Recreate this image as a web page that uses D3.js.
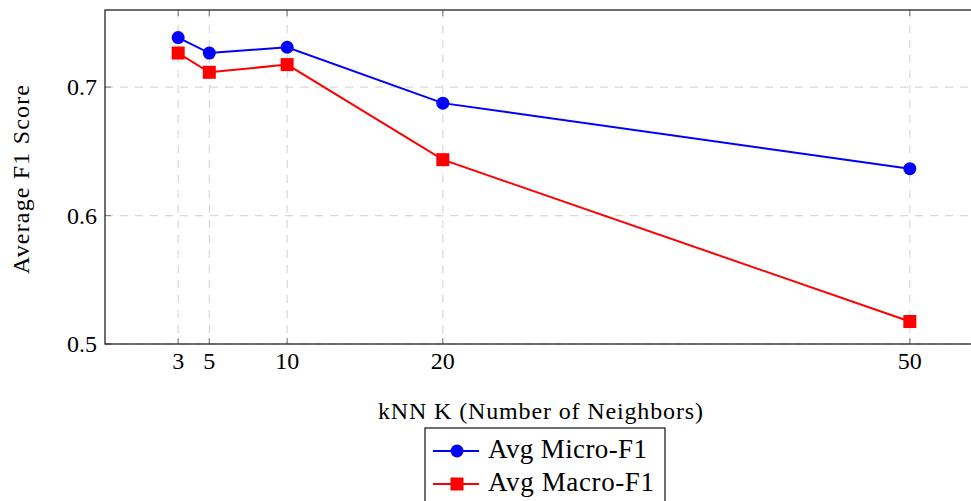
<!DOCTYPE html>
<html>
<head>
<meta charset="utf-8">
<script src="https://cdn.jsdelivr.net/npm/d3@7"></script>
<style>
  body { margin: 0; background: #fff; }
  svg { display: block; }
  text { font-family: "Liberation Serif", "Times New Roman", serif; fill: #000; }
</style>
</head>
<body>
<div id="chart"></div>
<script>
// data
const kValues = [3, 5, 10, 20, 50];
const microF1 = [0.7385, 0.7265, 0.731, 0.6875, 0.6365];
const macroF1 = [0.7265, 0.7115, 0.7175, 0.6435, 0.5175];
const xTicks = [3, 5, 10, 20, 50];
const yTicks = [0.5, 0.6, 0.7];

const W = 971, H = 501;
const margin = { top: 10, left: 105 },
    width = 878,
    height = 334;

const svg = d3.select("#chart")
    .append("svg")
    .attr("width", W)
    .attr("height", H);

const g = svg.append("g")
    .attr("transform", "translate(" + margin.left + "," + margin.top + ")");

// scales
const x = d3.scaleLinear()
    .domain([-1.7, 54.7])
    .range([0, width]);
const y = d3.scaleLinear()
    .domain([0.5, 0.76])
    .range([height, 0]);

// grid
g.selectAll("line.vgrid")
    .data(xTicks)
    .enter()
    .append("line")
    .attr("x1", d => x(d))
    .attr("x2", d => x(d))
    .attr("y1", 0)
    .attr("y2", height)
    .style("stroke", "#d9d9d9")
    .style("stroke-width", 1.2)
    .style("stroke-dasharray", "8,7");
g.selectAll("line.hgrid")
    .data(yTicks)
    .enter()
    .append("line")
    .attr("x1", 0)
    .attr("x2", width)
    .attr("y1", d => y(d))
    .attr("y2", d => y(d))
    .style("stroke", "#d9d9d9")
    .style("stroke-width", 1.2)
    .style("stroke-dasharray", "8,7");

// small inner ticks
const tickLen = 6;
xTicks.forEach(d => {
    g.append("line").attr("x1", x(d)).attr("x2", x(d)).attr("y1", height).attr("y2", height - tickLen)
        .style("stroke", "#888").style("stroke-width", 1.2);
    g.append("line").attr("x1", x(d)).attr("x2", x(d)).attr("y1", 0).attr("y2", tickLen)
        .style("stroke", "#888").style("stroke-width", 1.2);
});
yTicks.forEach(d => {
    g.append("line").attr("x1", 0).attr("x2", tickLen).attr("y1", y(d)).attr("y2", y(d))
        .style("stroke", "#888").style("stroke-width", 1.2);
});

// frame
g.append("rect")
    .attr("x", 0)
    .attr("y", 0)
    .attr("width", width)
    .attr("height", height)
    .style("fill", "none")
    .style("stroke", "#222")
    .style("stroke-width", 1.3);

// tick labels
g.selectAll("text.xlab")
    .data(xTicks)
    .enter()
    .append("text")
    .attr("x", d => x(d))
    .attr("y", height + 25)
    .attr("text-anchor", "middle")
    .style("font-size", "24px")
    .text(d => d);
g.selectAll("text.ylab")
    .data(yTicks)
    .enter()
    .append("text")
    .attr("x", -8)
    .attr("y", d => y(d) + 8)
    .attr("text-anchor", "end")
    .style("font-size", "24px")
    .text(d => d3.format(".1f")(d));

// axis titles
svg.append("text")
    .attr("x", 378)
    .attr("y", 419)
    .attr("textLength", 325)
    .style("font-size", "24px")
    .text("kNN K (Number of Neighbors)");
svg.append("text")
    .attr("transform", "translate(29,274) rotate(-90)")
    .attr("textLength", 189)
    .style("font-size", "24px")
    .text("Average F1 Score");

// lines
const series = [
    { name: "Avg Micro-F1", values: microF1, color: "#0000ff", shape: "circle" },
    { name: "Avg Macro-F1", values: macroF1, color: "#ff0000", shape: "square" }
];

const line = d3.line()
    .x((d, i) => x(kValues[i]))
    .y(d => y(d));

series.forEach(s => {
    g.append("path")
        .datum(s.values)
        .attr("fill", "none")
        .attr("stroke", s.color)
        .attr("stroke-width", 2)
        .attr("d", line);
    if (s.shape === "circle") {
        g.selectAll(null)
            .data(s.values)
            .enter()
            .append("circle")
            .attr("cx", (d, i) => x(kValues[i]))
            .attr("cy", d => y(d))
            .attr("r", 6.5)
            .style("fill", s.color);
    } else {
        g.selectAll(null)
            .data(s.values)
            .enter()
            .append("rect")
            .attr("x", (d, i) => x(kValues[i]) - 6.5)
            .attr("y", d => y(d) - 6.5)
            .attr("width", 13)
            .attr("height", 13)
            .style("fill", s.color);
    }
});

// legend
const legend = svg.append("g").attr("transform", "translate(425,428)");
legend.append("rect")
    .attr("x", 0)
    .attr("y", 0)
    .attr("width", 240)
    .attr("height", 80)
    .style("fill", "#fff")
    .style("stroke", "#222")
    .style("stroke-width", 1.3);
const legendWidths = [159, 166];
series.forEach((s, i) => {
    const cy = 23 + i * 33;
    legend.append("line")
        .attr("x1", 8).attr("x2", 54)
        .attr("y1", cy).attr("y2", cy)
        .style("stroke", s.color).style("stroke-width", 2);
    if (s.shape === "circle") {
        legend.append("circle").attr("cx", 32).attr("cy", cy).attr("r", 6.5).style("fill", s.color);
    } else {
        legend.append("rect").attr("x", 25.5).attr("y", cy - 6.5).attr("width", 13).attr("height", 13).style("fill", s.color);
    }
    legend.append("text")
        .attr("x", 63)
        .attr("y", cy + 7)
        .attr("textLength", legendWidths[i])
        .style("font-size", "27px")
        .text(s.name);
});
</script>
</body>
</html>
